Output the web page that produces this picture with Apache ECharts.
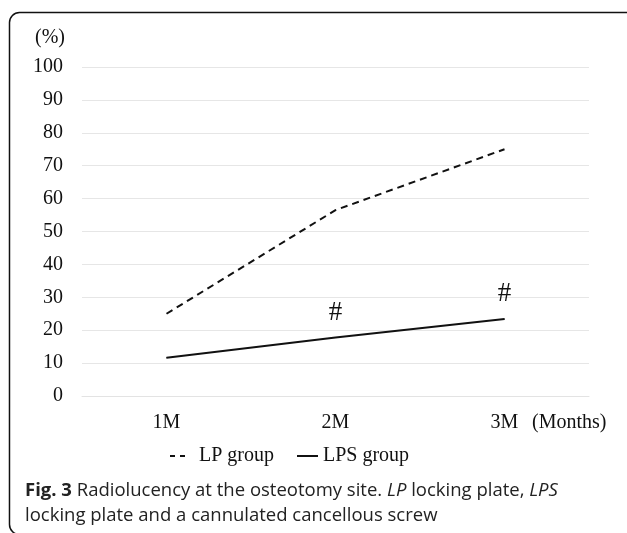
<!DOCTYPE html>
<html><head><meta charset="utf-8">
<script src="https://cdn.jsdelivr.net/npm/echarts@6/dist/echarts.min.js"></script>
<style>html,body{margin:0;padding:0;background:#fff}#c{width:627px;height:533px}</style>
</head><body><div id="c"></div>
<script>
var categories = ['1M', '2M', '3M'];
var lpValues = [25, 56.5, 75];
var lpsValues = [11.6, 17.8, 23.4];
var lpsMarks = ['', '#', '#'];
var seriesNames = ['LP group', 'LPS group'];
var xAxisName = '(Months)';
var yAxisName = '(%)';

var serif = '"Liberation Serif","Times New Roman",serif';
var sans = '"Open Sans","Noto Sans",sans-serif';
var chart = echarts.init(document.getElementById('c'));
chart.setOption({
  animation: false,
  backgroundColor: '#fff',
  grid: {left: 82, right: 38, top: 67, bottom: 137},
  xAxis: {
    type: 'category', data: categories, boundaryGap: true,
    name: xAxisName, nameLocation: 'end', nameGap: -57,
    nameTextStyle: {color: '#111', fontFamily: serif, fontSize: 20, align: 'left', verticalAlign: 'top', padding: [17, 0, 0, 0]},
    axisLine: {lineStyle: {color: '#e3e3e3'}},
    axisTick: {show: false},
    axisLabel: {color: '#111', fontFamily: serif, fontSize: 20, margin: 17, interval: 0}
  },
  yAxis: {
    type: 'value', min: 0, max: 100, interval: 10,
    name: yAxisName, nameLocation: 'end', nameGap: 19,
    nameTextStyle: {color: '#111', fontFamily: serif, fontSize: 20, align: 'right', padding: [0, 17, 0, 0]},
    axisLine: {show: false}, axisTick: {show: false},
    axisLabel: {color: '#111', fontFamily: serif, fontSize: 20, margin: 19},
    splitLine: {lineStyle: {color: '#e6e6e6'}}
  },
  legend: [
    {left: 165, top: 441, itemWidth: 15, itemHeight: 2, icon: 'path://M0,0H5V2H0ZM10,0H15V2H10Z',
     textStyle: {color: '#111', fontFamily: serif, fontSize: 20, padding: [0, 0, 0, 9]},
     data: [seriesNames[0]]},
    {left: 292, top: 441, itemWidth: 21, itemHeight: 2, icon: 'path://M0,0H21V2H0Z',
     textStyle: {color: '#111', fontFamily: serif, fontSize: 20},
     data: [seriesNames[1]]}
  ],
  series: [
    {name: seriesNames[0], type: 'line', data: lpValues, symbol: 'none',
     lineStyle: {color: '#111', width: 2, type: [7, 5]}, itemStyle: {color: '#111'}},
    {name: seriesNames[1], type: 'line', data: lpsValues.map(function (v, i) {
        return {value: v, label: {show: lpsMarks[i] !== '', formatter: lpsMarks[i]}};
      }), symbol: 'circle', symbolSize: 1, showSymbol: true,
     label: {position: 'top', distance: 11, color: '#111', fontFamily: serif, fontSize: 27},
     lineStyle: {color: '#111', width: 2}, itemStyle: {color: '#111'}}
  ],
  graphic: [
    {type: 'rect', shape: {x: 9.5, y: 12.5, width: 630, height: 522, r: 10},
     style: {fill: 'none', stroke: '#111', lineWidth: 1.5}, silent: true},
    {type: 'text', left: 25, top: 478,
     style: {
       text: '{b|Fig. 3} Radiolucency at the osteotomy site. {i|LP} locking plate, {i|LPS}\nlocking plate and a cannulated cancellous screw',
       fontFamily: sans, fontSize: 18.5, fill: '#222', lineHeight: 25,
       rich: {
         b: {fontWeight: 'bold', fontFamily: sans, fontSize: 18.5, fill: '#222'},
         i: {fontStyle: 'italic', fontFamily: sans, fontSize: 18.5, fill: '#222'}
       }
     }}
  ]
});
</script></body></html>
